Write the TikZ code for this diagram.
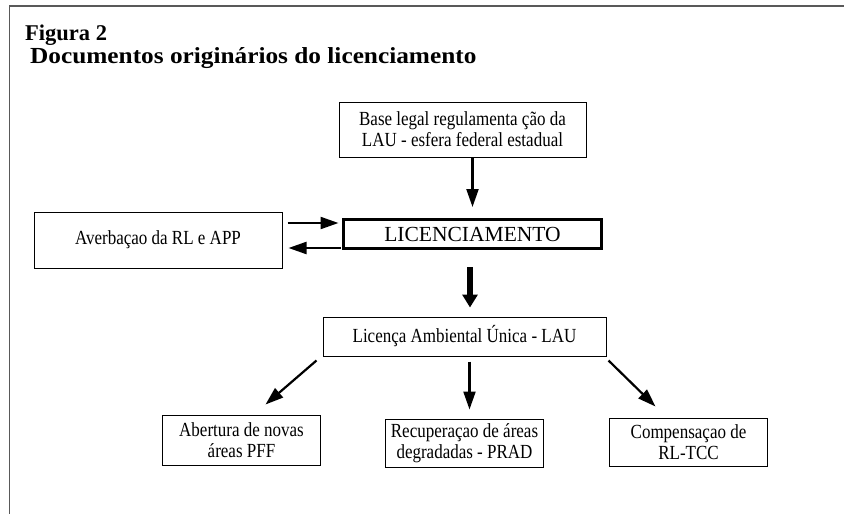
\documentclass[tikz,border=0pt]{standalone}
\usepackage{fontspec}
\setmainfont{Liberation Serif}[FakeStretch=0.85]
\newfontfamily\capsfont{Liberation Serif}
\newfontfamily\headfont{Liberation Serif}[FakeStretch=1.1]
\usetikzlibrary{positioning, arrows.meta}
\tikzset{
Box/.style={
	draw, rectangle,
	align=center,
	line width=1pt,
	inner sep=2pt,
	font=\fontsize{20}{21}\selectfont
},
ThickBox/.style={
	Box,
	line width=3pt,
	font=\capsfont\fontsize{21.5}{22}\selectfont
},
Head/.style={
	inner sep=0pt,
	anchor=base west,
	font=\headfont\bfseries\fontsize{23}{26}\selectfont
},
Edge/.style={
	draw=black,
	line width=2.2pt,
	-{Triangle[length=18pt,width=12pt]}
},
ThickEdge/.style={
	Edge,
	line width=6.5pt,
	-{Triangle[length=13pt,width=15pt]}
},
Frame/.style={
	draw=black!65
}
}

\begin{document}
\begin{tikzpicture}
	\useasboundingbox (0,0) rectangle (844pt,-514pt);
	\draw[Frame, line width=1.8pt] (844pt,-6pt) -- (9pt,-6pt);
	\draw[Frame, line width=1pt] (9pt,-6pt) -- (9pt,-514pt);

	\node[Head, font=\capsfont\bfseries\fontsize{22.5}{26}\selectfont] (fig) at (25pt,-40pt) {Figura 2};
	\node[Head] (sub) at (30pt,-63pt) {Documentos originários do licenciamento};

	\node[Box, minimum width=247pt, minimum height=55pt] (base) at (462.5pt,-129.5pt) {Base legal regulamenta ção da\\LAU - esfera federal estadual};
	\node[ThickBox, below of=base, node distance=104.5pt, xshift=10pt, minimum width=258pt, minimum height=29pt] (lic) {LICENCIAMENTO};
	\node[Box, left of=lic, node distance=314.5pt, yshift=-6pt, minimum width=248pt, minimum height=56pt] (averb) {Averbaçao da RL e APP};
	\node[Box, below of=lic, node distance=102.5pt, xshift=-8pt, minimum width=283pt, minimum height=39pt] (lau) {Licença Ambiental Única - LAU};

	\node[Box, below of=lau, node distance=106.5pt, minimum width=158pt, minimum height=48pt] (recup) {Recuperaçao de áreas\\degradadas - PRAD};
	\node[Box, left of=recup, node distance=223pt, yshift=3pt, minimum width=158pt, minimum height=50pt] (abert) {Abertura de novas\\áreas PFF};
	\node[Box, right of=recup, node distance=224pt, yshift=1pt, minimum width=158pt, minimum height=48pt] (comp) {Compensaçao de\\RL-TCC};

	\draw[Edge, shorten >=11pt] (base.south -| lic.north) -- (lic.north);
	\draw[Edge, shorten <=5pt, shorten >=3.5pt] ([yshift=11pt]lic.west -| averb.east) -- ([yshift=11pt]lic.west);
	\draw[Edge, shorten <=1.5pt, shorten >=6pt] ([yshift=-14pt]lic.west) -- ([yshift=-14pt]lic.west -| averb.east);
	\draw[ThickEdge, shorten <=17pt, shorten >=9pt] ([xshift=-2.5pt]lic.south) -- ([xshift=-2.5pt]lic.south |- lau.north);
	\draw[Edge] ([shift={(-6pt,-4pt)}]lau.south west) -- ([shift={(24pt,10pt)}]abert.north);
	\draw[Edge, shorten <=5pt, shorten >=9pt] ([xshift=5pt]lau.south) -- ([xshift=5pt]lau.south |- recup.north);
	\draw[Edge] ([shift={(2pt,-4pt)}]lau.south east) -- ([shift={(-33pt,11pt)}]comp.north);
\end{tikzpicture}
\end{document}
